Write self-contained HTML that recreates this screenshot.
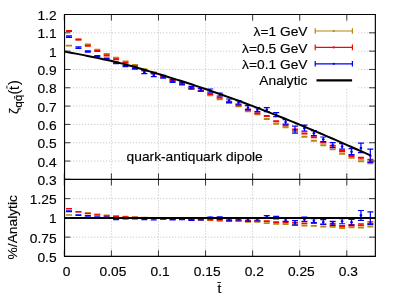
<!DOCTYPE html><html><head><meta charset="utf-8"><style>html,body{margin:0;padding:0;background:#fff}body{width:399px;height:299px;overflow:hidden;position:relative;font-family:"Liberation Sans",sans-serif}</style></head><body><svg width="399" height="299" viewBox="0 0 399 299" style="position:absolute;left:0;top:0;will-change:transform;opacity:0.999">
<rect width="399" height="299" fill="#fff"/>
<path d="M111.39 14.5V256.4M158.47 14.5V256.4M205.56 14.5V256.4M252.64 14.5V256.4M299.73 14.5V256.4M346.81 14.5V256.4M64.3 32.82H375.0M64.3 51.14H375.0M64.3 69.46H375.0M64.3 87.78H375.0M64.3 106.10H375.0M64.3 124.42H375.0M64.3 142.74H375.0M64.3 161.06H375.0M64.3 198.65H375.0M64.3 217.90H375.0M64.3 237.15H375.0" stroke="#a2a2a2" stroke-width="0.75" stroke-dasharray="0.9 2.1" fill="none"/>
<rect x="239.6" y="22.6" width="118.6" height="66.4" fill="#fff"/>
<path d="M69.01 45.25V45.95M66.01 45.25H72.01M66.01 45.95H72.01" stroke="#b8860b" stroke-width="1.2" fill="none"/><path d="M78.43 39.25V39.95M75.43 39.25H81.43M75.43 39.95H81.43" stroke="#b8860b" stroke-width="1.2" fill="none"/><path d="M87.84 44.05V44.75M84.84 44.05H90.84M84.84 44.75H90.84" stroke="#b8860b" stroke-width="1.2" fill="none"/><path d="M97.26 49.40V50.10M94.26 49.40H100.26M94.26 50.10H100.26" stroke="#b8860b" stroke-width="1.2" fill="none"/><path d="M106.68 53.70V54.40M103.68 53.70H109.68M103.68 54.40H109.68" stroke="#b8860b" stroke-width="1.2" fill="none"/><path d="M116.09 57.40V58.10M113.09 57.40H119.09M113.09 58.10H119.09" stroke="#b8860b" stroke-width="1.2" fill="none"/><path d="M125.51 61.20V61.90M122.51 61.20H128.51M122.51 61.90H128.51" stroke="#b8860b" stroke-width="1.2" fill="none"/><path d="M134.93 64.70V65.40M131.93 64.70H137.93M131.93 65.40H137.93" stroke="#b8860b" stroke-width="1.2" fill="none"/><path d="M144.34 68.80V69.50M141.34 68.80H147.34M141.34 69.50H147.34" stroke="#b8860b" stroke-width="1.2" fill="none"/><path d="M153.76 72.00V72.70M150.76 72.00H156.76M150.76 72.70H156.76" stroke="#b8860b" stroke-width="1.2" fill="none"/><path d="M163.18 76.00V76.70M160.18 76.00H166.18M160.18 76.70H166.18" stroke="#b8860b" stroke-width="1.2" fill="none"/><path d="M172.60 80.35V81.05M169.60 80.35H175.60M169.60 81.05H175.60" stroke="#b8860b" stroke-width="1.2" fill="none"/><path d="M182.01 83.35V84.05M179.01 83.35H185.01M179.01 84.05H185.01" stroke="#b8860b" stroke-width="1.2" fill="none"/><path d="M191.43 87.85V88.55M188.43 87.85H194.43M188.43 88.55H194.43" stroke="#b8860b" stroke-width="1.2" fill="none"/><path d="M200.85 90.65V91.35M197.85 90.65H203.85M197.85 91.35H203.85" stroke="#b8860b" stroke-width="1.2" fill="none"/><path d="M210.26 94.85V95.55M207.26 94.85H213.26M207.26 95.55H213.26" stroke="#b8860b" stroke-width="1.2" fill="none"/><path d="M219.68 98.85V99.55M216.68 98.85H222.68M216.68 99.55H222.68" stroke="#b8860b" stroke-width="1.2" fill="none"/><path d="M229.10 102.35V103.05M226.10 102.35H232.10M226.10 103.05H232.10" stroke="#b8860b" stroke-width="1.2" fill="none"/><path d="M238.51 106.05V106.75M235.51 106.05H241.51M235.51 106.75H241.51" stroke="#b8860b" stroke-width="1.2" fill="none"/><path d="M247.93 110.85V111.55M244.93 110.85H250.93M244.93 111.55H250.93" stroke="#b8860b" stroke-width="1.2" fill="none"/><path d="M257.35 114.05V114.75M254.35 114.05H260.35M254.35 114.75H260.35" stroke="#b8860b" stroke-width="1.2" fill="none"/><path d="M266.77 118.65V119.35M263.77 118.65H269.77M263.77 119.35H269.77" stroke="#b8860b" stroke-width="1.2" fill="none"/><path d="M276.18 123.35V124.05M273.18 123.35H279.18M273.18 124.05H279.18" stroke="#b8860b" stroke-width="1.2" fill="none"/><path d="M285.60 126.85V127.55M282.60 126.85H288.60M282.60 127.55H288.60" stroke="#b8860b" stroke-width="1.2" fill="none"/><path d="M295.02 130.85V131.55M292.02 130.85H298.02M292.02 131.55H298.02" stroke="#b8860b" stroke-width="1.2" fill="none"/><path d="M304.43 136.35V137.05M301.43 136.35H307.43M301.43 137.05H307.43" stroke="#b8860b" stroke-width="1.2" fill="none"/><path d="M313.85 140.35V141.05M310.85 140.35H316.85M310.85 141.05H316.85" stroke="#b8860b" stroke-width="1.2" fill="none"/><path d="M323.27 144.85V145.55M320.27 144.85H326.27M320.27 145.55H326.27" stroke="#b8860b" stroke-width="1.2" fill="none"/><path d="M332.68 149.05V149.75M329.68 149.05H335.68M329.68 149.75H335.68" stroke="#b8860b" stroke-width="1.2" fill="none"/><path d="M342.10 153.25V154.15M339.10 153.25H345.10M339.10 154.15H345.10" stroke="#b8860b" stroke-width="1.2" fill="none"/><path d="M351.52 157.25V158.15M348.52 157.25H354.52M348.52 158.15H354.52" stroke="#b8860b" stroke-width="1.2" fill="none"/><path d="M360.94 160.75V161.65M357.94 160.75H363.94M357.94 161.65H363.94" stroke="#b8860b" stroke-width="1.2" fill="none"/><path d="M370.35 162.75V163.65M367.35 162.75H373.35M367.35 163.65H373.35" stroke="#b8860b" stroke-width="1.2" fill="none"/>
<path d="M69.01 30.62V31.38M66.01 30.62H72.01M66.01 31.38H72.01" stroke="#ff0000" stroke-width="1.2" fill="none"/><path d="M78.43 39.22V39.98M75.43 39.22H81.43M75.43 39.98H81.43" stroke="#ff0000" stroke-width="1.2" fill="none"/><path d="M87.84 45.32V46.08M84.84 45.32H90.84M84.84 46.08H90.84" stroke="#ff0000" stroke-width="1.2" fill="none"/><path d="M97.26 50.67V51.43M94.26 50.67H100.26M94.26 51.43H100.26" stroke="#ff0000" stroke-width="1.2" fill="none"/><path d="M106.68 55.17V55.93M103.68 55.17H109.68M103.68 55.93H109.68" stroke="#ff0000" stroke-width="1.2" fill="none"/><path d="M116.09 58.87V59.63M113.09 58.87H119.09M113.09 59.63H119.09" stroke="#ff0000" stroke-width="1.2" fill="none"/><path d="M125.51 62.37V63.13M122.51 62.37H128.51M122.51 63.13H128.51" stroke="#ff0000" stroke-width="1.2" fill="none"/><path d="M134.93 65.77V66.53M131.93 65.77H137.93M131.93 66.53H137.93" stroke="#ff0000" stroke-width="1.2" fill="none"/><path d="M144.34 69.77V70.53M141.34 69.77H147.34M141.34 70.53H147.34" stroke="#ff0000" stroke-width="1.2" fill="none"/><path d="M153.76 72.97V73.73M150.76 72.97H156.76M150.76 73.73H156.76" stroke="#ff0000" stroke-width="1.2" fill="none"/><path d="M163.18 76.67V77.43M160.18 76.67H166.18M160.18 77.43H166.18" stroke="#ff0000" stroke-width="1.2" fill="none"/><path d="M172.60 80.52V81.28M169.60 80.52H175.60M169.60 81.28H175.60" stroke="#ff0000" stroke-width="1.2" fill="none"/><path d="M182.01 83.22V83.98M179.01 83.22H185.01M179.01 83.98H185.01" stroke="#ff0000" stroke-width="1.2" fill="none"/><path d="M191.43 87.62V88.38M188.43 87.62H194.43M188.43 88.38H194.43" stroke="#ff0000" stroke-width="1.2" fill="none"/><path d="M200.85 90.42V91.18M197.85 90.42H203.85M197.85 91.18H203.85" stroke="#ff0000" stroke-width="1.2" fill="none"/><path d="M210.26 93.62V94.38M207.26 93.62H213.26M207.26 94.38H213.26" stroke="#ff0000" stroke-width="1.2" fill="none"/><path d="M219.68 97.02V97.78M216.68 97.02H222.68M216.68 97.78H222.68" stroke="#ff0000" stroke-width="1.2" fill="none"/><path d="M229.10 101.42V102.18M226.10 101.42H232.10M226.10 102.18H232.10" stroke="#ff0000" stroke-width="1.2" fill="none"/><path d="M238.51 104.82V105.58M235.51 104.82H241.51M235.51 105.58H241.51" stroke="#ff0000" stroke-width="1.2" fill="none"/><path d="M247.93 109.02V109.78M244.93 109.02H250.93M244.93 109.78H250.93" stroke="#ff0000" stroke-width="1.2" fill="none"/><path d="M257.35 112.82V113.58M254.35 112.82H260.35M254.35 113.58H260.35" stroke="#ff0000" stroke-width="1.2" fill="none"/><path d="M266.77 115.62V116.38M263.77 115.62H269.77M263.77 116.38H269.77" stroke="#ff0000" stroke-width="1.2" fill="none"/><path d="M276.18 120.82V121.58M273.18 120.82H279.18M273.18 121.58H279.18" stroke="#ff0000" stroke-width="1.2" fill="none"/><path d="M285.60 124.82V125.58M282.60 124.82H288.60M282.60 125.58H288.60" stroke="#ff0000" stroke-width="1.2" fill="none"/><path d="M295.02 129.02V129.78M292.02 129.02H298.02M292.02 129.78H298.02" stroke="#ff0000" stroke-width="1.2" fill="none"/><path d="M304.43 133.12V133.88M301.43 133.12H307.43M301.43 133.88H307.43" stroke="#ff0000" stroke-width="1.2" fill="none"/><path d="M313.85 136.82V137.58M310.85 136.82H316.85M310.85 137.58H316.85" stroke="#ff0000" stroke-width="1.2" fill="none"/><path d="M323.27 142.02V142.78M320.27 142.02H326.27M320.27 142.78H326.27" stroke="#ff0000" stroke-width="1.2" fill="none"/><path d="M332.68 145.32V146.08M329.68 145.32H335.68M329.68 146.08H335.68" stroke="#ff0000" stroke-width="1.2" fill="none"/><path d="M342.10 150.70V151.70M339.10 150.70H345.10M339.10 151.70H345.10" stroke="#ff0000" stroke-width="1.2" fill="none"/><path d="M351.52 155.08V156.32M348.52 155.08H354.52M348.52 156.32H354.52" stroke="#ff0000" stroke-width="1.2" fill="none"/><path d="M360.94 157.46V158.94M357.94 157.46H363.94M357.94 158.94H363.94" stroke="#ff0000" stroke-width="1.2" fill="none"/><path d="M370.35 159.34V161.06M367.35 159.34H373.35M367.35 161.06H373.35" stroke="#ff0000" stroke-width="1.2" fill="none"/><circle cx="370.35" cy="160.20" r="1.3" fill="#ff0000"/>
<path d="M69.01 35.95V37.45M66.01 35.95H72.01M66.01 37.45H72.01" stroke="#0000ff" stroke-width="1.2" fill="none"/><path d="M78.43 46.95V48.45M75.43 46.95H81.43M75.43 48.45H81.43" stroke="#0000ff" stroke-width="1.2" fill="none"/><path d="M87.84 50.85V52.15M84.84 50.85H90.84M84.84 52.15H90.84" stroke="#0000ff" stroke-width="1.2" fill="none"/><path d="M97.26 55.50V56.60M94.26 55.50H100.26M94.26 56.60H100.26" stroke="#0000ff" stroke-width="1.2" fill="none"/><path d="M106.68 58.20V59.10M103.68 58.20H109.68M103.68 59.10H109.68" stroke="#0000ff" stroke-width="1.2" fill="none"/><path d="M116.09 62.20V63.60M113.09 62.20H119.09M113.09 63.60H119.09" stroke="#0000ff" stroke-width="1.2" fill="none"/><path d="M125.51 65.50V66.60M122.51 65.50H128.51M122.51 66.60H128.51" stroke="#0000ff" stroke-width="1.2" fill="none"/><path d="M134.93 68.20V69.10M131.93 68.20H137.93M131.93 69.10H137.93" stroke="#0000ff" stroke-width="1.2" fill="none"/><path d="M144.34 70.75V73.55M141.34 70.75H147.34M141.34 73.55H147.34" stroke="#0000ff" stroke-width="1.2" fill="none"/><circle cx="144.34" cy="72.15" r="1.3" fill="#0000ff"/><path d="M153.76 73.55V76.55M150.76 73.55H156.76M150.76 76.55H156.76" stroke="#0000ff" stroke-width="1.2" fill="none"/><circle cx="153.76" cy="75.05" r="1.3" fill="#0000ff"/><path d="M163.18 75.25V78.05M160.18 75.25H166.18M160.18 78.05H166.18" stroke="#0000ff" stroke-width="1.2" fill="none"/><circle cx="163.18" cy="76.65" r="1.3" fill="#0000ff"/><path d="M172.60 79.70V82.40M169.60 79.70H175.60M169.60 82.40H175.60" stroke="#0000ff" stroke-width="1.2" fill="none"/><circle cx="172.60" cy="81.05" r="1.3" fill="#0000ff"/><path d="M182.01 82.20V84.90M179.01 82.20H185.01M179.01 84.90H185.01" stroke="#0000ff" stroke-width="1.2" fill="none"/><circle cx="182.01" cy="83.55" r="1.3" fill="#0000ff"/><path d="M191.43 86.40V89.20M188.43 86.40H194.43M188.43 89.20H194.43" stroke="#0000ff" stroke-width="1.2" fill="none"/><circle cx="191.43" cy="87.80" r="1.3" fill="#0000ff"/><path d="M200.85 88.40V91.20M197.85 88.40H203.85M197.85 91.20H203.85" stroke="#0000ff" stroke-width="1.2" fill="none"/><circle cx="200.85" cy="89.80" r="1.3" fill="#0000ff"/><path d="M210.26 89.00V92.20M207.26 89.00H213.26M207.26 92.20H213.26" stroke="#0000ff" stroke-width="1.2" fill="none"/><circle cx="210.26" cy="90.60" r="1.3" fill="#0000ff"/><path d="M219.68 93.20V96.00M216.68 93.20H222.68M216.68 96.00H222.68" stroke="#0000ff" stroke-width="1.2" fill="none"/><circle cx="219.68" cy="94.60" r="1.3" fill="#0000ff"/><path d="M229.10 99.00V102.70M226.10 99.00H232.10M226.10 102.70H232.10" stroke="#0000ff" stroke-width="1.2" fill="none"/><circle cx="229.10" cy="100.85" r="1.3" fill="#0000ff"/><path d="M238.51 100.70V104.20M235.51 100.70H241.51M235.51 104.20H241.51" stroke="#0000ff" stroke-width="1.2" fill="none"/><circle cx="238.51" cy="102.45" r="1.3" fill="#0000ff"/><path d="M247.93 105.70V109.90M244.93 105.70H250.93M244.93 109.90H250.93" stroke="#0000ff" stroke-width="1.2" fill="none"/><circle cx="247.93" cy="107.80" r="1.3" fill="#0000ff"/><path d="M257.35 107.70V111.70M254.35 107.70H260.35M254.35 111.70H260.35" stroke="#0000ff" stroke-width="1.2" fill="none"/><circle cx="257.35" cy="109.70" r="1.3" fill="#0000ff"/><path d="M266.77 107.70V111.70M263.77 107.70H269.77M263.77 111.70H269.77" stroke="#0000ff" stroke-width="1.2" fill="none"/><circle cx="266.77" cy="109.70" r="1.3" fill="#0000ff"/><path d="M276.18 112.70V116.70M273.18 112.70H279.18M273.18 116.70H279.18" stroke="#0000ff" stroke-width="1.2" fill="none"/><circle cx="276.18" cy="114.70" r="1.3" fill="#0000ff"/><path d="M285.60 119.70V124.20M282.60 119.70H288.60M282.60 124.20H288.60" stroke="#0000ff" stroke-width="1.2" fill="none"/><circle cx="285.60" cy="121.95" r="1.3" fill="#0000ff"/><path d="M295.02 126.20V133.20M292.02 126.20H298.02M292.02 133.20H298.02" stroke="#0000ff" stroke-width="1.2" fill="none"/><circle cx="295.02" cy="129.70" r="1.3" fill="#0000ff"/><path d="M304.43 125.20V131.20M301.43 125.20H307.43M301.43 131.20H307.43" stroke="#0000ff" stroke-width="1.2" fill="none"/><circle cx="304.43" cy="128.20" r="1.3" fill="#0000ff"/><path d="M313.85 130.70V135.70M310.85 130.70H316.85M310.85 135.70H316.85" stroke="#0000ff" stroke-width="1.2" fill="none"/><circle cx="313.85" cy="133.20" r="1.3" fill="#0000ff"/><path d="M323.27 137.00V141.70M320.27 137.00H326.27M320.27 141.70H326.27" stroke="#0000ff" stroke-width="1.2" fill="none"/><circle cx="323.27" cy="139.35" r="1.3" fill="#0000ff"/><path d="M332.68 142.70V147.70M329.68 142.70H335.68M329.68 147.70H335.68" stroke="#0000ff" stroke-width="1.2" fill="none"/><circle cx="332.68" cy="145.20" r="1.3" fill="#0000ff"/><path d="M342.10 143.70V149.20M339.10 143.70H345.10M339.10 149.20H345.10" stroke="#0000ff" stroke-width="1.2" fill="none"/><circle cx="342.10" cy="146.45" r="1.3" fill="#0000ff"/><path d="M351.52 148.70V154.70M348.52 148.70H354.52M348.52 154.70H354.52" stroke="#0000ff" stroke-width="1.2" fill="none"/><circle cx="351.52" cy="151.70" r="1.3" fill="#0000ff"/><path d="M360.94 143.20V152.70M357.94 143.20H363.94M357.94 152.70H363.94" stroke="#0000ff" stroke-width="1.2" fill="none"/><circle cx="360.94" cy="147.95" r="1.3" fill="#0000ff"/><path d="M370.35 149.20V162.50M367.35 149.20H373.35M367.35 162.50H373.35" stroke="#0000ff" stroke-width="1.2" fill="none"/><circle cx="370.35" cy="155.85" r="1.3" fill="#0000ff"/>
<polyline points="64.30,51.59 68.17,52.25 72.05,52.93 75.92,53.64 79.80,54.38 83.67,55.14 87.55,55.92 91.42,56.72 95.30,57.52 99.17,58.33 103.05,59.16 106.92,60.00 110.80,60.85 114.67,61.74 118.55,62.67 122.42,63.64 126.29,64.65 130.17,65.71 134.04,66.80 137.92,67.92 141.79,69.06 145.67,70.20 149.54,71.35 153.42,72.50 157.29,73.66 161.17,74.82 165.04,75.99 168.92,77.18 172.79,78.37 176.67,79.58 180.54,80.81 184.42,82.05 188.29,83.30 192.16,84.57 196.04,85.85 199.91,87.14 203.79,88.45 207.66,89.77 211.54,91.11 215.41,92.45 219.29,93.82 223.16,95.19 227.04,96.58 230.91,97.98 234.79,99.39 238.66,100.81 242.54,102.25 246.41,103.69 250.28,105.15 254.16,106.62 258.03,108.11 261.91,109.60 265.78,111.11 269.66,112.62 273.53,114.15 277.41,115.69 281.28,117.23 285.16,118.79 289.03,120.36 292.91,121.94 296.78,123.53 300.66,125.13 304.53,126.74 308.41,128.35 312.28,129.98 316.15,131.62 320.03,133.27 323.90,134.92 327.78,136.59 331.65,138.26 335.53,139.94 339.40,141.63 343.28,143.33 347.15,145.04 351.03,146.76 354.90,148.48 358.78,150.22 362.65,151.96 366.53,153.71 370.40,155.46" stroke="#000" stroke-width="2.0" fill="none" stroke-linejoin="round"/>
<path d="M69.01 214.88V215.17M66.01 214.88H72.01M66.01 215.17H72.01" stroke="#b8860b" stroke-width="1.2" fill="none"/><path d="M78.43 211.55V211.85M75.43 211.55H81.43M75.43 211.85H81.43" stroke="#b8860b" stroke-width="1.2" fill="none"/><path d="M87.84 212.75V213.05M84.84 212.75H90.84M84.84 213.05H90.84" stroke="#b8860b" stroke-width="1.2" fill="none"/><path d="M97.26 214.18V214.48M94.26 214.18H100.26M94.26 214.48H100.26" stroke="#b8860b" stroke-width="1.2" fill="none"/><path d="M106.68 215.14V215.45M103.68 215.14H109.68M103.68 215.45H109.68" stroke="#b8860b" stroke-width="1.2" fill="none"/><path d="M116.09 215.81V216.12M113.09 215.81H119.09M113.09 216.12H119.09" stroke="#b8860b" stroke-width="1.2" fill="none"/><path d="M125.51 216.43V216.75M122.51 216.43H128.51M122.51 216.75H128.51" stroke="#b8860b" stroke-width="1.2" fill="none"/><path d="M134.93 216.81V217.14M131.93 216.81H137.93M131.93 217.14H137.93" stroke="#b8860b" stroke-width="1.2" fill="none"/><path d="M144.34 217.43V217.76M141.34 217.43H147.34M141.34 217.76H147.34" stroke="#b8860b" stroke-width="1.2" fill="none"/><path d="M153.76 217.61V217.95M150.76 217.61H156.76M150.76 217.95H156.76" stroke="#b8860b" stroke-width="1.2" fill="none"/><path d="M163.18 218.18V218.52M160.18 218.18H166.18M160.18 218.52H166.18" stroke="#b8860b" stroke-width="1.2" fill="none"/><path d="M172.60 218.91V219.25M169.60 218.91H175.60M169.60 219.25H175.60" stroke="#b8860b" stroke-width="1.2" fill="none"/><path d="M182.01 218.94V219.30M179.01 218.94H185.01M179.01 219.30H185.01" stroke="#b8860b" stroke-width="1.2" fill="none"/><path d="M191.43 219.71V220.07M188.43 219.71H194.43M188.43 220.07H194.43" stroke="#b8860b" stroke-width="1.2" fill="none"/><path d="M200.85 219.57V219.94M197.85 219.57H203.85M197.85 219.94H203.85" stroke="#b8860b" stroke-width="1.2" fill="none"/><path d="M210.26 220.14V220.52M207.26 220.14H213.26M207.26 220.52H213.26" stroke="#b8860b" stroke-width="1.2" fill="none"/><path d="M219.68 220.79V221.17M216.68 220.79H222.68M216.68 221.17H222.68" stroke="#b8860b" stroke-width="1.2" fill="none"/><path d="M229.10 220.73V221.12M226.10 220.73H232.10M226.10 221.12H232.10" stroke="#b8860b" stroke-width="1.2" fill="none"/><path d="M238.51 220.95V221.35M235.51 220.95H241.51M235.51 221.35H241.51" stroke="#b8860b" stroke-width="1.2" fill="none"/><path d="M247.93 221.80V222.21M244.93 221.80H250.93M244.93 222.21H250.93" stroke="#b8860b" stroke-width="1.2" fill="none"/><path d="M257.35 221.68V222.10M254.35 221.68H260.35M254.35 222.10H260.35" stroke="#b8860b" stroke-width="1.2" fill="none"/><path d="M266.77 222.89V223.33M263.77 222.89H269.77M263.77 223.33H269.77" stroke="#b8860b" stroke-width="1.2" fill="none"/><path d="M276.18 223.67V224.12M273.18 223.67H279.18M273.18 224.12H279.18" stroke="#b8860b" stroke-width="1.2" fill="none"/><path d="M285.60 223.96V224.43M282.60 223.96H288.60M282.60 224.43H288.60" stroke="#b8860b" stroke-width="1.2" fill="none"/><path d="M295.02 224.45V224.94M292.02 224.45H298.02M292.02 224.94H298.02" stroke="#b8860b" stroke-width="1.2" fill="none"/><path d="M304.43 225.31V225.81M301.43 225.31H307.43M301.43 225.81H307.43" stroke="#b8860b" stroke-width="1.2" fill="none"/><path d="M313.85 225.61V226.13M310.85 225.61H316.85M310.85 226.13H316.85" stroke="#b8860b" stroke-width="1.2" fill="none"/><path d="M323.27 226.48V227.02M320.27 226.48H326.27M320.27 227.02H326.27" stroke="#b8860b" stroke-width="1.2" fill="none"/><path d="M332.68 226.53V227.09M329.68 226.53H335.68M329.68 227.09H335.68" stroke="#b8860b" stroke-width="1.2" fill="none"/><path d="M342.10 227.68V228.43M339.10 227.68H345.10M339.10 228.43H345.10" stroke="#b8860b" stroke-width="1.2" fill="none"/><path d="M351.52 226.95V227.75M348.52 226.95H354.52M348.52 227.75H354.52" stroke="#b8860b" stroke-width="1.2" fill="none"/><path d="M360.94 227.16V227.99M357.94 227.16H363.94M357.94 227.99H363.94" stroke="#b8860b" stroke-width="1.2" fill="none"/><path d="M370.35 226.03V226.91M367.35 226.03H373.35M367.35 226.91H373.35" stroke="#b8860b" stroke-width="1.2" fill="none"/>
<path d="M69.01 208.69V209.01M66.01 208.69H72.01M66.01 209.01H72.01" stroke="#ff0000" stroke-width="1.2" fill="none"/><path d="M78.43 211.53V211.86M75.43 211.53H81.43M75.43 211.86H81.43" stroke="#ff0000" stroke-width="1.2" fill="none"/><path d="M87.84 213.30V213.63M84.84 213.30H90.84M84.84 213.63H90.84" stroke="#ff0000" stroke-width="1.2" fill="none"/><path d="M97.26 214.73V215.06M94.26 214.73H100.26M94.26 215.06H100.26" stroke="#ff0000" stroke-width="1.2" fill="none"/><path d="M106.68 215.79V216.13M103.68 215.79H109.68M103.68 216.13H109.68" stroke="#ff0000" stroke-width="1.2" fill="none"/><path d="M116.09 216.47V216.81M113.09 216.47H119.09M113.09 216.81H119.09" stroke="#ff0000" stroke-width="1.2" fill="none"/><path d="M125.51 216.96V217.30M122.51 216.96H128.51M122.51 217.30H128.51" stroke="#ff0000" stroke-width="1.2" fill="none"/><path d="M134.93 217.31V217.66M131.93 217.31H137.93M131.93 217.66H137.93" stroke="#ff0000" stroke-width="1.2" fill="none"/><path d="M144.34 217.88V218.24M141.34 217.88H147.34M141.34 218.24H147.34" stroke="#ff0000" stroke-width="1.2" fill="none"/><path d="M153.76 218.08V218.44M150.76 218.08H156.76M150.76 218.44H156.76" stroke="#ff0000" stroke-width="1.2" fill="none"/><path d="M163.18 218.50V218.87M160.18 218.50H166.18M160.18 218.87H166.18" stroke="#ff0000" stroke-width="1.2" fill="none"/><path d="M172.60 218.99V219.36M169.60 218.99H175.60M169.60 219.36H175.60" stroke="#ff0000" stroke-width="1.2" fill="none"/><path d="M182.01 218.88V219.26M179.01 218.88H185.01M179.01 219.26H185.01" stroke="#ff0000" stroke-width="1.2" fill="none"/><path d="M191.43 219.59V219.98M188.43 219.59H194.43M188.43 219.98H194.43" stroke="#ff0000" stroke-width="1.2" fill="none"/><path d="M200.85 219.45V219.85M197.85 219.45H203.85M197.85 219.85H203.85" stroke="#ff0000" stroke-width="1.2" fill="none"/><path d="M210.26 219.48V219.89M207.26 219.48H213.26M207.26 219.89H213.26" stroke="#ff0000" stroke-width="1.2" fill="none"/><path d="M219.68 219.78V220.20M216.68 219.78H222.68M216.68 220.20H222.68" stroke="#ff0000" stroke-width="1.2" fill="none"/><path d="M229.10 220.20V220.63M226.10 220.20H232.10M226.10 220.63H232.10" stroke="#ff0000" stroke-width="1.2" fill="none"/><path d="M238.51 220.24V220.68M235.51 220.24H241.51M235.51 220.68H241.51" stroke="#ff0000" stroke-width="1.2" fill="none"/><path d="M247.93 220.71V221.16M244.93 220.71H250.93M244.93 221.16H250.93" stroke="#ff0000" stroke-width="1.2" fill="none"/><path d="M257.35 220.93V221.39M254.35 220.93H260.35M254.35 221.39H260.35" stroke="#ff0000" stroke-width="1.2" fill="none"/><path d="M266.77 220.89V221.37M263.77 220.89H269.77M263.77 221.37H269.77" stroke="#ff0000" stroke-width="1.2" fill="none"/><path d="M276.18 221.83V222.32M273.18 221.83H279.18M273.18 222.32H279.18" stroke="#ff0000" stroke-width="1.2" fill="none"/><path d="M285.60 222.10V222.61M282.60 222.10H288.60M282.60 222.61H288.60" stroke="#ff0000" stroke-width="1.2" fill="none"/><path d="M295.02 222.49V223.02M292.02 222.49H298.02M292.02 223.02H298.02" stroke="#ff0000" stroke-width="1.2" fill="none"/><path d="M304.43 223.20V223.74M301.43 223.20H307.43M301.43 223.74H307.43" stroke="#ff0000" stroke-width="1.2" fill="none"/><path d="M313.85 222.89V223.45M310.85 222.89H316.85M310.85 223.45H316.85" stroke="#ff0000" stroke-width="1.2" fill="none"/><path d="M323.27 223.99V224.58M320.27 223.99H326.27M320.27 224.58H326.27" stroke="#ff0000" stroke-width="1.2" fill="none"/><path d="M332.68 223.42V224.04M329.68 223.42H335.68M329.68 224.04H335.68" stroke="#ff0000" stroke-width="1.2" fill="none"/><path d="M342.10 225.53V226.37M339.10 225.53H345.10M339.10 226.37H345.10" stroke="#ff0000" stroke-width="1.2" fill="none"/><path d="M351.52 224.64V225.73M348.52 224.64H354.52M348.52 225.73H354.52" stroke="#ff0000" stroke-width="1.2" fill="none"/><path d="M360.94 223.91V225.28M357.94 223.91H363.94M357.94 225.28H363.94" stroke="#ff0000" stroke-width="1.2" fill="none"/><path d="M370.35 221.90V223.58M367.35 221.90H373.35M367.35 223.58H373.35" stroke="#ff0000" stroke-width="1.2" fill="none"/><circle cx="370.35" cy="222.74" r="1.3" fill="#ff0000"/>
<path d="M69.01 210.94V211.58M66.01 210.94H72.01M66.01 211.58H72.01" stroke="#0000ff" stroke-width="1.2" fill="none"/><path d="M78.43 214.84V215.48M75.43 214.84H81.43M75.43 215.48H81.43" stroke="#0000ff" stroke-width="1.2" fill="none"/><path d="M87.84 215.68V216.25M84.84 215.68H90.84M84.84 216.25H90.84" stroke="#0000ff" stroke-width="1.2" fill="none"/><path d="M97.26 216.84V217.32M94.26 216.84H100.26M94.26 217.32H100.26" stroke="#0000ff" stroke-width="1.2" fill="none"/><path d="M106.68 217.13V217.53M103.68 217.13H109.68M103.68 217.53H109.68" stroke="#0000ff" stroke-width="1.2" fill="none"/><path d="M116.09 218.25V219.58M113.09 218.25H119.09M113.09 219.58H119.09" stroke="#0000ff" stroke-width="1.2" fill="none"/><path d="M125.51 218.38V218.88M122.51 218.38H128.51M122.51 218.88H128.51" stroke="#0000ff" stroke-width="1.2" fill="none"/><path d="M134.93 218.43V218.84M131.93 218.43H137.93M131.93 218.84H137.93" stroke="#0000ff" stroke-width="1.2" fill="none"/><path d="M144.34 218.34V219.65M141.34 218.34H147.34M141.34 219.65H147.34" stroke="#0000ff" stroke-width="1.2" fill="none"/><path d="M153.76 218.35V219.78M150.76 218.35H156.76M150.76 219.78H156.76" stroke="#0000ff" stroke-width="1.2" fill="none"/><path d="M163.18 217.81V219.17M160.18 217.81H166.18M160.18 219.17H166.18" stroke="#0000ff" stroke-width="1.2" fill="none"/><path d="M172.60 218.58V219.92M169.60 218.58H175.60M169.60 219.92H175.60" stroke="#0000ff" stroke-width="1.2" fill="none"/><path d="M182.01 218.36V219.72M179.01 218.36H185.01M179.01 219.72H185.01" stroke="#0000ff" stroke-width="1.2" fill="none"/><path d="M191.43 218.97V220.40M188.43 218.97H194.43M188.43 220.40H194.43" stroke="#0000ff" stroke-width="1.2" fill="none"/><path d="M200.85 218.40V219.86M197.85 218.40H203.85M197.85 219.86H203.85" stroke="#0000ff" stroke-width="1.2" fill="none"/><path d="M210.26 217.01V218.72M207.26 217.01H213.26M207.26 218.72H213.26" stroke="#0000ff" stroke-width="1.2" fill="none"/><circle cx="210.26" cy="217.86" r="1.3" fill="#0000ff"/><path d="M219.68 216.89V219.32M216.68 216.89H222.68M216.68 219.32H222.68" stroke="#0000ff" stroke-width="1.2" fill="none"/><circle cx="219.68" cy="218.10" r="1.3" fill="#0000ff"/><path d="M229.10 218.84V220.92M226.10 218.84H232.10M226.10 220.92H232.10" stroke="#0000ff" stroke-width="1.2" fill="none"/><circle cx="229.10" cy="219.88" r="1.3" fill="#0000ff"/><path d="M238.51 217.87V219.88M235.51 217.87H241.51M235.51 219.88H241.51" stroke="#0000ff" stroke-width="1.2" fill="none"/><circle cx="238.51" cy="218.88" r="1.3" fill="#0000ff"/><path d="M247.93 218.75V221.24M244.93 218.75H250.93M244.93 221.24H250.93" stroke="#0000ff" stroke-width="1.2" fill="none"/><circle cx="247.93" cy="219.99" r="1.3" fill="#0000ff"/><path d="M257.35 217.81V220.25M254.35 217.81H260.35M254.35 220.25H260.35" stroke="#0000ff" stroke-width="1.2" fill="none"/><circle cx="257.35" cy="219.03" r="1.3" fill="#0000ff"/><path d="M266.77 215.53V218.03M263.77 215.53H269.77M263.77 218.03H269.77" stroke="#0000ff" stroke-width="1.2" fill="none"/><circle cx="266.77" cy="216.78" r="1.3" fill="#0000ff"/><path d="M276.18 216.29V218.87M273.18 216.29H279.18M273.18 218.87H279.18" stroke="#0000ff" stroke-width="1.2" fill="none"/><circle cx="276.18" cy="217.58" r="1.3" fill="#0000ff"/><path d="M285.60 218.39V221.39M282.60 218.39H288.60M282.60 221.39H288.60" stroke="#0000ff" stroke-width="1.2" fill="none"/><circle cx="285.60" cy="219.89" r="1.3" fill="#0000ff"/><path d="M295.02 220.54V225.08M292.02 220.54H298.02M292.02 225.08H298.02" stroke="#0000ff" stroke-width="1.2" fill="none"/><circle cx="295.02" cy="222.81" r="1.3" fill="#0000ff"/><path d="M304.43 217.13V221.42M301.43 217.13H307.43M301.43 221.42H307.43" stroke="#0000ff" stroke-width="1.2" fill="none"/><circle cx="304.43" cy="219.28" r="1.3" fill="#0000ff"/><path d="M313.85 218.74V222.65M310.85 218.74H316.85M310.85 222.65H316.85" stroke="#0000ff" stroke-width="1.2" fill="none"/><circle cx="313.85" cy="220.70" r="1.3" fill="#0000ff"/><path d="M323.27 219.72V224.35M320.27 219.72H326.27M320.27 224.35H326.27" stroke="#0000ff" stroke-width="1.2" fill="none"/><circle cx="323.27" cy="222.03" r="1.3" fill="#0000ff"/><path d="M332.68 221.31V225.34M329.68 221.31H335.68M329.68 225.34H335.68" stroke="#0000ff" stroke-width="1.2" fill="none"/><circle cx="332.68" cy="223.33" r="1.3" fill="#0000ff"/><path d="M342.10 218.64V223.77M339.10 218.64H345.10M339.10 223.77H345.10" stroke="#0000ff" stroke-width="1.2" fill="none"/><circle cx="342.10" cy="221.21" r="1.3" fill="#0000ff"/><path d="M351.52 219.42V225.11M348.52 219.42H354.52M348.52 225.11H354.52" stroke="#0000ff" stroke-width="1.2" fill="none"/><circle cx="351.52" cy="222.26" r="1.3" fill="#0000ff"/><path d="M360.94 210.50V220.30M357.94 210.50H363.94M357.94 220.30H363.94" stroke="#0000ff" stroke-width="1.2" fill="none"/><circle cx="360.94" cy="215.40" r="1.3" fill="#0000ff"/><path d="M370.35 211.81V224.39M367.35 211.81H373.35M367.35 224.39H373.35" stroke="#0000ff" stroke-width="1.2" fill="none"/><circle cx="370.35" cy="218.10" r="1.3" fill="#0000ff"/>
<path d="M64.3 218.05H375.0" stroke="#000" stroke-width="2.1" fill="none"/>
<path d="M64.30 14.5v6.0M64.30 173.4v12.0M64.30 256.4v-6.0M111.39 14.5v6.0M111.39 173.4v12.0M111.39 256.4v-6.0M158.47 14.5v6.0M158.47 173.4v12.0M158.47 256.4v-6.0M205.56 14.5v6.0M205.56 173.4v12.0M205.56 256.4v-6.0M252.64 14.5v6.0M252.64 173.4v12.0M252.64 256.4v-6.0M299.73 14.5v6.0M299.73 173.4v12.0M299.73 256.4v-6.0M346.81 14.5v6.0M346.81 173.4v12.0M346.81 256.4v-6.0M64.3 14.50h6.0M375.0 14.50h-6.0M64.3 32.82h6.0M375.0 32.82h-6.0M64.3 51.14h6.0M375.0 51.14h-6.0M64.3 69.46h6.0M375.0 69.46h-6.0M64.3 87.78h6.0M375.0 87.78h-6.0M64.3 106.10h6.0M375.0 106.10h-6.0M64.3 124.42h6.0M375.0 124.42h-6.0M64.3 142.74h6.0M375.0 142.74h-6.0M64.3 161.06h6.0M375.0 161.06h-6.0M64.3 179.38h6.0M375.0 179.38h-6.0M64.3 179.40h6.0M375.0 179.40h-6.0M64.3 198.65h6.0M375.0 198.65h-6.0M64.3 217.90h6.0M375.0 217.90h-6.0M64.3 237.15h6.0M375.0 237.15h-6.0M64.3 256.40h6.0M375.0 256.40h-6.0" stroke="#222" stroke-width="0.9" fill="none"/>
<path d="M64.55 14.5H375.35V256.35H64.55Z" stroke="#000" stroke-width="1.15" fill="none"/><path d="M64.5 179.4H375.25" stroke="#000" stroke-width="1.1" fill="none"/>
<path d="M315.2 31.0H352.4M315.2 28.2v5.6M352.4 28.2v5.6" stroke="#b8860b" stroke-width="1.2" fill="none"/><circle cx="333.80" cy="31.0" r="1.1" fill="#b8860b"/>
<text transform="translate(307.50,36.40) scale(1.06,1)" text-anchor="end" font-family="Liberation Sans, sans-serif" font-size="13" fill="#000" stroke="#000" stroke-width="0.15">λ=1 GeV</text>
<path d="M315.2 47.4H352.4M315.2 44.6v5.6M352.4 44.6v5.6" stroke="#ff0000" stroke-width="1.2" fill="none"/><circle cx="333.80" cy="47.4" r="1.1" fill="#ff0000"/>
<text transform="translate(307.50,52.80) scale(1.06,1)" text-anchor="end" font-family="Liberation Sans, sans-serif" font-size="13" fill="#000" stroke="#000" stroke-width="0.15">λ=0.5 GeV</text>
<path d="M315.2 63.8H352.4M315.2 61.0v5.6M352.4 61.0v5.6" stroke="#0000ff" stroke-width="1.2" fill="none"/><circle cx="333.80" cy="63.8" r="1.1" fill="#0000ff"/>
<text transform="translate(307.50,69.20) scale(1.06,1)" text-anchor="end" font-family="Liberation Sans, sans-serif" font-size="13" fill="#000" stroke="#000" stroke-width="0.15">λ=0.1 GeV</text>
<path d="M316.5 80.3H352.1" stroke="#000" stroke-width="2.2" fill="none"/>
<text transform="translate(307.50,85.10) scale(1.06,1)" text-anchor="end" font-family="Liberation Sans, sans-serif" font-size="13" fill="#000" stroke="#000" stroke-width="0.15">Analytic</text>
<text transform="translate(126.60,160.50) scale(1.06,1)" text-anchor="start" font-family="Liberation Sans, sans-serif" font-size="13" fill="#000" stroke="#000" stroke-width="0.15">quark-antiquark dipole</text>
<text transform="translate(56.60,20.00) scale(1.06,1)" text-anchor="end" font-family="Liberation Sans, sans-serif" font-size="13" fill="#000" stroke="#000" stroke-width="0.15">1.2</text>
<text transform="translate(56.60,38.32) scale(1.06,1)" text-anchor="end" font-family="Liberation Sans, sans-serif" font-size="13" fill="#000" stroke="#000" stroke-width="0.15">1.1</text>
<text transform="translate(56.60,56.64) scale(1.06,1)" text-anchor="end" font-family="Liberation Sans, sans-serif" font-size="13" fill="#000" stroke="#000" stroke-width="0.15">1</text>
<text transform="translate(56.60,74.96) scale(1.06,1)" text-anchor="end" font-family="Liberation Sans, sans-serif" font-size="13" fill="#000" stroke="#000" stroke-width="0.15">0.9</text>
<text transform="translate(56.60,93.28) scale(1.06,1)" text-anchor="end" font-family="Liberation Sans, sans-serif" font-size="13" fill="#000" stroke="#000" stroke-width="0.15">0.8</text>
<text transform="translate(56.60,111.60) scale(1.06,1)" text-anchor="end" font-family="Liberation Sans, sans-serif" font-size="13" fill="#000" stroke="#000" stroke-width="0.15">0.7</text>
<text transform="translate(56.60,129.92) scale(1.06,1)" text-anchor="end" font-family="Liberation Sans, sans-serif" font-size="13" fill="#000" stroke="#000" stroke-width="0.15">0.6</text>
<text transform="translate(56.60,148.24) scale(1.06,1)" text-anchor="end" font-family="Liberation Sans, sans-serif" font-size="13" fill="#000" stroke="#000" stroke-width="0.15">0.5</text>
<text transform="translate(56.60,166.56) scale(1.06,1)" text-anchor="end" font-family="Liberation Sans, sans-serif" font-size="13" fill="#000" stroke="#000" stroke-width="0.15">0.4</text>
<text transform="translate(56.60,184.88) scale(1.06,1)" text-anchor="end" font-family="Liberation Sans, sans-serif" font-size="13" fill="#000" stroke="#000" stroke-width="0.15">0.3</text>
<text transform="translate(56.60,204.15) scale(1.06,1)" text-anchor="end" font-family="Liberation Sans, sans-serif" font-size="13" fill="#000" stroke="#000" stroke-width="0.15">1.25</text>
<text transform="translate(56.60,223.40) scale(1.06,1)" text-anchor="end" font-family="Liberation Sans, sans-serif" font-size="13" fill="#000" stroke="#000" stroke-width="0.15">1</text>
<text transform="translate(56.60,242.65) scale(1.06,1)" text-anchor="end" font-family="Liberation Sans, sans-serif" font-size="13" fill="#000" stroke="#000" stroke-width="0.15">0.75</text>
<text transform="translate(56.60,261.90) scale(1.06,1)" text-anchor="end" font-family="Liberation Sans, sans-serif" font-size="13" fill="#000" stroke="#000" stroke-width="0.15">0.5</text>
<text transform="translate(66.70,275.80) scale(1.06,1)" text-anchor="middle" font-family="Liberation Sans, sans-serif" font-size="13" fill="#000" stroke="#000" stroke-width="0.15">0</text>
<text transform="translate(112.98,275.80) scale(1.06,1)" text-anchor="middle" font-family="Liberation Sans, sans-serif" font-size="13" fill="#000" stroke="#000" stroke-width="0.15">0.05</text>
<text transform="translate(160.07,275.80) scale(1.06,1)" text-anchor="middle" font-family="Liberation Sans, sans-serif" font-size="13" fill="#000" stroke="#000" stroke-width="0.15">0.1</text>
<text transform="translate(207.16,275.80) scale(1.06,1)" text-anchor="middle" font-family="Liberation Sans, sans-serif" font-size="13" fill="#000" stroke="#000" stroke-width="0.15">0.15</text>
<text transform="translate(254.24,275.80) scale(1.06,1)" text-anchor="middle" font-family="Liberation Sans, sans-serif" font-size="13" fill="#000" stroke="#000" stroke-width="0.15">0.2</text>
<text transform="translate(301.33,275.80) scale(1.06,1)" text-anchor="middle" font-family="Liberation Sans, sans-serif" font-size="13" fill="#000" stroke="#000" stroke-width="0.15">0.25</text>
<text transform="translate(348.41,275.80) scale(1.06,1)" text-anchor="middle" font-family="Liberation Sans, sans-serif" font-size="13" fill="#000" stroke="#000" stroke-width="0.15">0.3</text>
<text transform="translate(219.30,293.20) scale(1.06,1)" text-anchor="middle" font-family="Liberation Sans, sans-serif" font-size="13" fill="#000" stroke="#000" stroke-width="0.15">t</text><path d="M217.4 282.5H220.9" stroke="#000" stroke-width="0.9"/>
<text transform="translate(17.80,114.00) rotate(-90) scale(1.06,1)" font-family="Liberation Sans, sans-serif" font-size="13" fill="#000" stroke="#000" stroke-width="0.15">ζ</text>
<text transform="translate(21.60,107.80) rotate(-90) scale(1.06,1)" font-family="Liberation Sans, sans-serif" font-size="11.2" fill="#000" stroke="#000" stroke-width="0.15">qq</text>
<text transform="translate(19.00,94.60) rotate(-90) scale(0.95,1)" font-family="Liberation Sans, sans-serif" font-size="15.2" fill="#000" stroke="#000" stroke-width="0.15">(</text>
<text transform="translate(19.00,89.90) rotate(-90) scale(0.92,1)" font-family="Liberation Sans, sans-serif" font-size="15.2" fill="#000" stroke="#000" stroke-width="0.15">t</text>
<text transform="translate(19.00,85.00) rotate(-90) scale(0.95,1)" font-family="Liberation Sans, sans-serif" font-size="15.2" fill="#000" stroke="#000" stroke-width="0.15">)</text>
<path d="M6.9 85.7V88.7M14.7 96.1V98.8" stroke="#000" stroke-width="0.9" fill="none"/>
<text transform="translate(16.80,259.40) rotate(-90) scale(1.06,1)" text-anchor="start" font-family="Liberation Sans, sans-serif" font-size="13" fill="#000" stroke="#000" stroke-width="0.15">%/Analytic</text>
</svg></body></html>
